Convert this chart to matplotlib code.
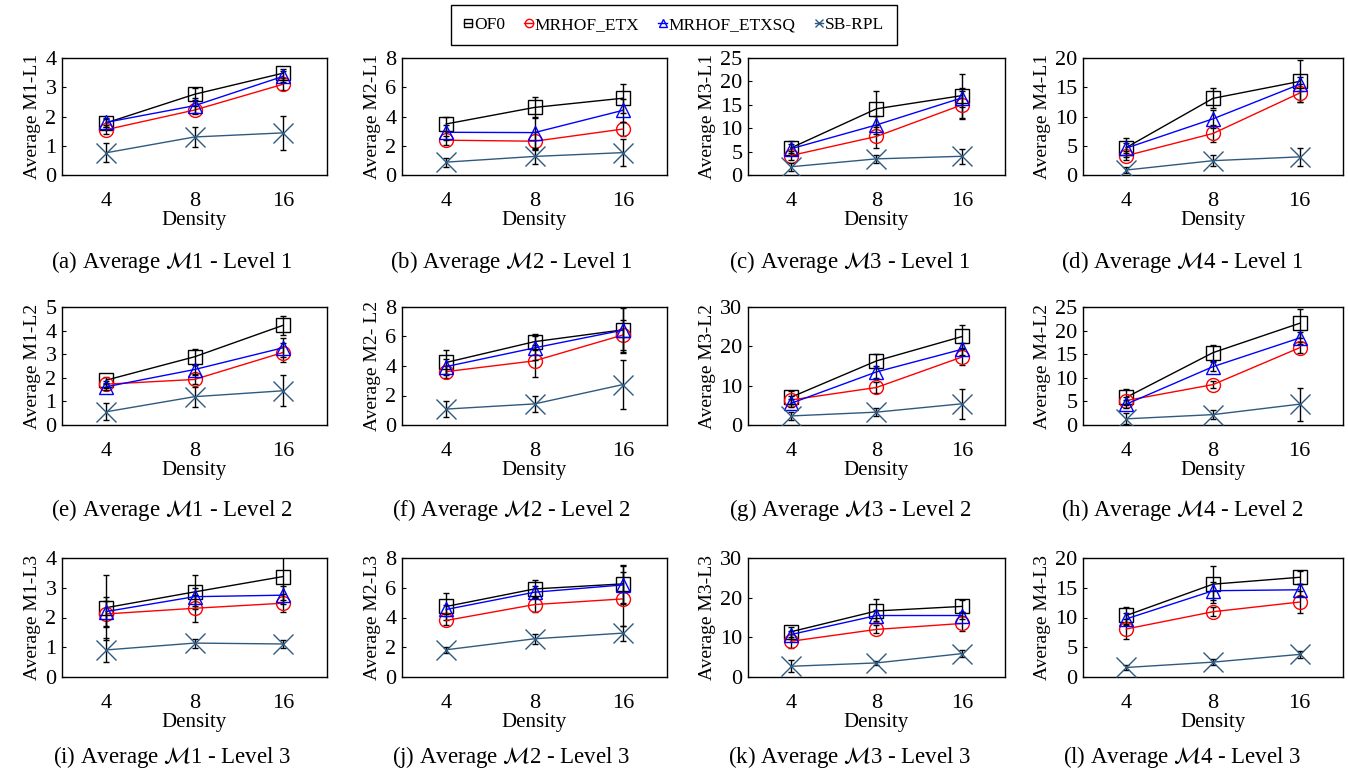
import numpy as np
import matplotlib
matplotlib.use('Agg')
import matplotlib.pyplot as plt
from matplotlib.lines import Line2D

plt.rcParams['font.family'] = ['Liberation Serif', 'DejaVu Serif']
plt.rcParams['mathtext.fontset'] = 'stix'

densities = ['4', '8', '16']
series_names = ['OF0', 'MRHOF_ETX', 'MRHOF_ETXSQ', 'SB-RPL']

# one row per panel, (a) .. (l)
of0 = [
    [1.78, 2.76, 3.48],
    [3.49, 4.62, 5.25],
    [5.77, 14.15, 16.97],
    [4.7, 13.1, 16.0],
    [1.9, 2.89, 4.22],
    [4.24, 5.65, 6.45],
    [7.05, 16.3, 22.5],
    [5.87, 15.33, 21.55],
    [2.33, 2.86, 3.375],
    [4.74, 5.92, 6.26],
    [11.4, 16.65, 17.8],
    [10.34, 15.6, 16.76],
]
etx = [
    [1.55, 2.22, 3.1],
    [2.38, 2.31, 3.14],
    [4.15, 8.24, 15.0],
    [3.3, 7.1, 14.0],
    [1.73, 1.93, 3.07],
    [3.62, 4.35, 6.1],
    [6.36, 9.54, 17.3],
    [5.18, 8.56, 16.37],
    [2.12, 2.31, 2.48],
    [3.8, 4.87, 5.25],
    [9.0, 12.0, 13.5],
    [8.07, 10.97, 12.6],
]
etxsq = [
    [1.8, 2.37, 3.37],
    [2.92, 2.9, 4.42],
    [5.6, 10.7, 16.5],
    [4.6, 9.6, 15.5],
    [1.62, 2.35, 3.27],
    [3.96, 5.23, 6.43],
    [5.5, 13.5, 19.26],
    [4.42, 12.36, 18.44],
    [2.2, 2.7, 2.75],
    [4.54, 5.7, 6.19],
    [10.7, 15.5, 15.5],
    [9.77, 14.5, 14.66],
]
sbrpl = [
    [0.76, 1.3, 1.44],
    [0.88, 1.27, 1.53],
    [1.76, 3.45, 4.0],
    [0.85, 2.45, 3.1],
    [0.56, 1.2, 1.45],
    [1.08, 1.43, 2.74],
    [2.3, 3.27, 5.4],
    [1.31, 2.2, 4.42],
    [0.91, 1.14, 1.11],
    [1.83, 2.57, 2.95],
    [2.7, 3.55, 5.9],
    [1.6, 2.5, 3.8],
]

# symmetric error bars
of0_err = [
    [0.15, 0.2, 0.15],
    [0.5, 0.7, 1.0],
    [1.6, 3.8, 4.7],
    [1.6, 1.7, 3.6],
    [0.15, 0.35, 0.4],
    [0.85, 0.55, 1.6],
    [1.6, 1.8, 3.0],
    [1.7, 1.7, 3.1],
    [1.1, 0.58, 0.8],
    [0.9, 0.6, 1.27],
    [1.2, 3.0, 1.5],
    [1.4, 3.1, 1.1],
]
etx_err = [
    [0.15, 0.15, 0.2],
    [0.3, 0.6, 0.5],
    [1.0, 2.5, 3.0],
    [0.8, 1.5, 1.6],
    [0.15, 0.2, 0.4],
    [0.4, 1.08, 1.0],
    [1.0, 1.5, 2.0],
    [0.8, 0.8, 1.2],
    [0.45, 0.45, 0.3],
    [0.3, 0.5, 1.8],
    [1.8, 1.0, 2.0],
    [1.7, 0.8, 1.9],
]
etxsq_err = [
    [0.15, 0.25, 0.2],
    [0.5, 1.1, 0.8],
    [1.0, 2.0, 2.0],
    [0.8, 1.5, 1.2],
    [0.15, 0.2, 0.4],
    [0.5, 0.8, 1.5],
    [1.0, 1.5, 1.5],
    [0.8, 1.0, 1.2],
    [0.5, 0.3, 0.3],
    [0.3, 0.4, 1.3],
    [1.0, 1.5, 1.0],
    [1.0, 1.5, 1.0],
]
sbrpl_err = [
    [0.32, 0.33, 0.57],
    [0.3, 0.55, 0.9],
    [0.8, 0.8, 1.6],
    [0.5, 0.9, 1.5],
    [0.36, 0.42, 0.65],
    [0.53, 0.57, 1.66],
    [1.0, 1.0, 3.8],
    [1.2, 1.0, 3.5],
    [0.4, 0.15, 0.15],
    [0.2, 0.35, 0.5],
    [1.5, 0.5, 0.8],
    [0.5, 0.5, 0.6],
]

ylabels = ['Average M1-L1', 'Average M2-L1', 'Average M3-L1', 'Average M4-L1',
           'Average M1-L2', 'Average M2- L2', 'Average M3-L2', 'Average M4-L2',
           'Average M1-L3', 'Average M2-L3', 'Average M3-L3', 'Average M4-L3']
ymax = [4, 8, 25, 20, 5, 8, 30, 25, 4, 8, 30, 20]
ystep = [1, 2, 5, 5, 1, 2, 10, 5, 1, 2, 10, 5]
letters = 'abcdefghijkl'

colors = ['black', 'red', 'blue', '#2f5a80']
markers = ['s', 'o', '^', 'x']
values = [of0, etx, etxsq, sbrpl]
errors = [of0_err, etx_err, etxsq_err, sbrpl_err]

W, H = 1348, 773
fig = plt.figure(figsize=(W / 100, H / 100), dpi=100)

col_px = [(62, 327), (402, 667), (748, 1005), (1083, 1343)]
row_px = [(58, 175), (307, 425), (558, 677)]
caption_x = [172, 511, 850, 1182]
caption_y = [262, 510, 757]

x = np.arange(len(densities))

for i in range(12):
    r, c = divmod(i, 4)
    l, rr = col_px[c]
    t, b = row_px[r]
    ax = fig.add_axes([l / W, 1 - b / H, (rr - l) / W, (b - t) / H])
    for k in range(4):
        ax.errorbar(x, values[k][i], yerr=errors[k][i], color=colors[k],
                    marker=markers[k], markersize=10 if k < 3 else 14,
                    markerfacecolor='none', markeredgewidth=1.0, lw=1.0,
                    ecolor='black', elinewidth=1.0, capsize=2, zorder=3 + k)
    ax.set_xlim(-0.5, 2.5)
    ax.set_ylim(0, ymax[i])
    ax.set_yticks(np.arange(0, ymax[i] + 0.01, ystep[i]))
    ax.set_xticks(x)
    ax.set_xticklabels(densities)
    ax.tick_params(axis='x', length=0, labelsize=16, pad=12)
    ax.tick_params(axis='y', direction='in', length=3, labelsize=16, pad=4)
    ax.set_xlabel('Density', fontsize=15, labelpad=0)
    ax.set_ylabel(ylabels[i], fontsize=14, labelpad=3)
    for s in ax.spines.values():
        s.set_linewidth(1.0)
    fig.text(caption_x[c] / W, 1 - caption_y[r] / H,
             '(%s) Average $\\mathcal{M}$%d - Level %d' % (letters[i], c + 1, r + 1),
             ha='center', va='center', fontsize=16.5)

handles = [Line2D([0], [0], color=colors[k], marker=markers[k], markersize=6,
                  markerfacecolor='none', lw=1.0) for k in range(4)]
leg = fig.legend(handles, series_names, loc='center', ncol=4,
                 bbox_to_anchor=(0.5, 1 - 25 / H), fontsize=12.5,
                 handlelength=0.5, handletextpad=0.1, columnspacing=1.1,
                 fancybox=False, edgecolor='black', framealpha=1,
                 borderpad=0.7)
leg.get_frame().set_linewidth(1.0)

fig.savefig('out.png', dpi=100)
